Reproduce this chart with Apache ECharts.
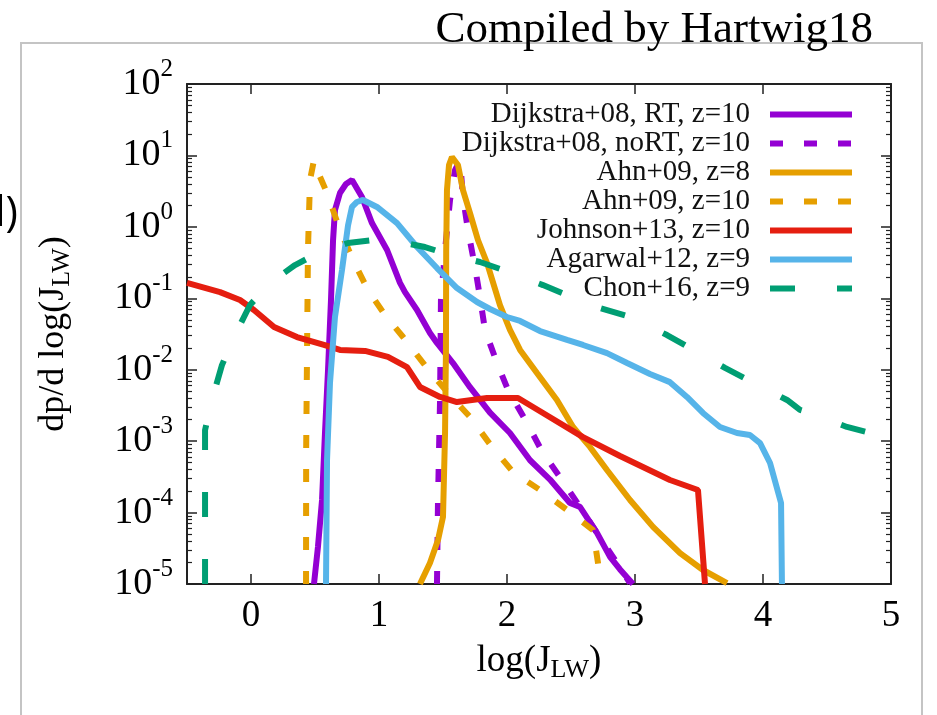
<!DOCTYPE html>
<html>
<head>
<meta charset="utf-8">
<title>dp/d log(J_LW)</title>
<script src="https://cdn.jsdelivr.net/npm/echarts@6/dist/echarts.min.js"></script>
<style>
  html, body { margin: 0; padding: 0; background: #fff; }
  #chart { width: 937px; height: 715px; }
</style>
</head>
<body>
<div id="chart"></div>
<script>
// curves: [log(J_LW), dp/d log(J_LW)]
const dijkstraRT = [
  [0.492, 1.0e-5], [0.523, 3.3e-5], [0.555, 1.5e-4], [0.578, 1.3e-3], [0.602, 0.010],
  [0.625, 0.095], [0.641, 0.65], [0.656, 1.72], [0.695, 2.98], [0.742, 3.98],
  [0.789, 4.53], [0.867, 2.62], [0.945, 1.13], [1.063, 0.474], [1.164, 0.164],
  [1.203, 0.122], [1.297, 0.0686], [1.398, 0.0327], [1.453, 0.0237], [1.578, 0.0124],
  [1.711, 5.7e-3], [1.867, 2.5e-3], [2.023, 1.3e-3], [2.18, 5.4e-4], [2.336, 2.9e-4],
  [2.492, 1.36e-4], [2.57, 1.2e-4], [2.703, 5.2e-5], [2.805, 2.4e-5], [2.883, 1.6e-5],
  [2.984, 1.0e-5]
]
const dijkstraNoRT = [
  [1.453, 1.0e-5], [1.461, 1.5e-4], [1.477, 3.8e-3], [1.484, 0.095], [1.516, 0.474],
  [1.555, 2.38], [1.594, 6.25], [1.633, 8.6], [1.656, 2.62], [1.695, 0.9],
  [1.75, 0.274], [1.789, 0.104], [1.828, 0.036], [1.922, 0.0124], [2.008, 5.2e-3],
  [2.156, 1.8e-3], [2.281, 6.8e-4], [2.43, 2.86e-4], [2.57, 1.2e-4], [2.703, 5.2e-5],
  [2.844, 2.17e-5], [2.961, 1.03e-5]
]
const ahnZ8 = [
  [1.32, 1.0e-5], [1.398, 1.97e-5], [1.461, 4.13e-5], [1.5, 8.7e-5], [1.516, 1.3e-3],
  [1.523, 0.0189], [1.525, 0.474], [1.531, 3.28], [1.547, 7.35], [1.57, 9.5],
  [1.617, 7.35], [1.656, 3.28], [1.711, 1.56], [1.773, 0.655], [1.844, 0.312],
  [1.945, 0.0805], [2.023, 0.036], [2.102, 0.0189], [2.234, 9.0e-3], [2.39, 3.77e-3],
  [2.516, 1.58e-3], [2.648, 8.3e-4], [2.781, 3.94e-4], [2.961, 1.5e-4], [3.141, 6.3e-5],
  [3.352, 2.7e-5], [3.531, 1.57e-5], [3.719, 1.03e-5]
]
const ahnZ10 = [
  [0.43, 1.0e-5], [0.431, 7.5e-4], [0.438, 0.0189], [0.445, 0.474], [0.461, 4.53],
  [0.492, 8.6], [0.523, 5.86], [0.594, 2.98], [0.695, 0.904], [0.797, 0.344],
  [0.914, 0.13], [1.047, 0.0583], [1.188, 0.0287], [1.375, 0.0106], [1.539, 4.72e-3],
  [1.711, 2.18e-3], [1.883, 8.3e-4], [2.047, 3.7e-4], [2.258, 2.07e-4], [2.469, 1.09e-4],
  [2.672, 5.7e-5], [2.711, 1.97e-5], [2.727, 1.0e-5]
]
const johnson = [
  [-0.5, 0.164], [-0.242, 0.122], [-0.086, 0.0946], [0.023, 0.0686], [0.18, 0.0396],
  [0.359, 0.0287], [0.57, 0.0222], [0.695, 0.0189], [0.891, 0.0183], [1.07, 0.0151],
  [1.219, 0.0109], [1.32, 5.73e-3], [1.477, 4.15e-3], [1.609, 3.53e-3], [1.844, 4.02e-3],
  [2.086, 4.02e-3], [2.281, 2.48e-3], [2.594, 1.14e-3], [2.883, 6.2e-4], [3.273, 2.86e-4],
  [3.492, 2.07e-4], [3.547, 1.0e-5]
]
const agarwal = [
  [0.586, 1.0e-5], [0.594, 5.4e-4], [0.617, 6.5e-3], [0.656, 0.0547], [0.711, 0.25],
  [0.758, 1.05], [0.789, 1.9], [0.828, 2.23], [0.875, 2.38], [0.984, 1.9],
  [1.141, 1.13], [1.297, 0.522], [1.453, 0.265], [1.609, 0.139], [1.766, 0.0887],
  [1.867, 0.0708], [2.0, 0.0547], [2.102, 0.0481], [2.258, 0.0348], [2.469, 0.0261],
  [2.594, 0.0222], [2.781, 0.0171], [2.938, 0.0124], [3.117, 8.7e-3], [3.273, 6.7e-3],
  [3.406, 4.15e-3], [3.531, 2.48e-3], [3.664, 1.58e-3], [3.797, 1.3e-3], [3.898, 1.22e-3],
  [3.977, 9.4e-4], [4.055, 4.94e-4], [4.141, 1.36e-4], [4.148, 1.0e-5]
]
const chon = [
  [-0.359, 1.0e-5], [-0.359, 1.43e-3], [-0.305, 3.77e-3], [-0.227, 0.0116], [-0.125, 0.0306],
  [-0.008, 0.0805], [0.148, 0.164], [0.344, 0.292], [0.539, 0.445], [0.758, 0.594],
  [0.953, 0.655], [1.164, 0.614], [1.359, 0.522], [1.555, 0.404], [1.789, 0.322],
  [1.969, 0.249], [2.281, 0.153], [2.469, 0.111], [2.727, 0.0731], [2.961, 0.0547],
  [3.25, 0.0306], [3.43, 0.0201], [3.703, 0.0106], [3.883, 7.2e-3], [4.188, 3.77e-3],
  [4.289, 2.73e-3], [4.367, 2.48e-3], [4.656, 1.58e-3], [4.836, 1.3e-3], [5.0, 1.0e-3]
]

const legendNames = [
  'Dijkstra+08, RT, z=10',
  'Dijkstra+08, noRT, z=10',
  'Ahn+09, z=8',
  'Ahn+09, z=10',
  'Johnson+13, z=10',
  'Agarwal+12, z=9',
  'Chon+16, z=9',
]
const xTicks = [0, 1, 2, 3, 4, 5]

const FONT = 'Liberation Serif'
const chart = echarts.init(document.getElementById('chart'))

function curve(name, data, color, dash) {
  return {
    name: name,
    type: 'line',
    data: data,
    symbol: 'none',
    clip: true,
    lineStyle: { color: color, width: 6, type: dash || 'solid' },
    itemStyle: { color: color },
    emphasis: { disabled: true },
  }
}

const axisLineStyle = { color: '#222', width: 2 }
const yLogAxis = (pos, labels) => ({
  type: 'log',
  logBase: 10,
  position: pos,
  min: 1e-5,
  max: 100,
  axisLine: { show: true, onZero: false, lineStyle: axisLineStyle },
  axisTick: { show: true, inside: true, length: 10, lineStyle: { color: '#222', width: 1.5 } },
  minorTick: { show: true, splitNumber: 9, length: 5, lineStyle: { color: '#222', width: 1.2 } },
  splitLine: { show: false },
  minorSplitLine: { show: false },
  axisLabel: {
    show: labels,
    margin: 14,
    formatter: (v) => '{b|10}{s|' + Math.round(Math.log10(v)) + '}',
    rich: {
      b: { fontFamily: FONT, fontSize: 38, color: '#000', padding: [8, 0, 8, 0] },
      s: { fontFamily: FONT, fontSize: 25, color: '#000', verticalAlign: 'top' },
    },
  },
})
const xAxisCfg = (pos, labels) => ({
  type: 'value',
  position: pos,
  min: -0.5,
  max: 5,
  axisLine: { show: true, onZero: false, lineStyle: axisLineStyle },
  axisTick: { show: true, inside: true, length: 10, customValues: xTicks, lineStyle: { color: '#222', width: 1.5 } },
  splitLine: { show: false },
  axisLabel: {
    show: labels,
    customValues: xTicks,
    margin: 14,
    fontFamily: FONT,
    fontSize: 37,
    color: '#000',
  },
})
const subRich = {
  sub: { fontFamily: FONT, fontSize: 26, color: '#000', padding: [17, 0, 0, 0] },
}

const xBottom = xAxisCfg('bottom', true)
xBottom.name = 'log(J{sub|LW})'
xBottom.nameLocation = 'middle'
xBottom.nameGap = 56
xBottom.nameTextStyle = { fontFamily: FONT, fontSize: 37, color: '#000', rich: subRich }

const yLeft = yLogAxis('left', true)
yLeft.name = 'dp/d log(J{sub|LW})'
yLeft.nameLocation = 'middle'
yLeft.nameRotate = 90
yLeft.nameGap = 112
yLeft.nameTextStyle = { fontFamily: FONT, fontSize: 36, color: '#000', rich: subRich }

const option = {
  animation: false,
  backgroundColor: '#fff',
  grid: { left: 187, top: 84, right: 46, bottom: 131, containLabel: false },
  xAxis: [xBottom, xAxisCfg('top', false)],
  yAxis: [yLeft, yLogAxis('right', false)],
  legend: {
    data: legendNames,
    orient: 'vertical',
    align: 'right',
    right: 77,
    top: 95,
    itemWidth: 82,
    itemHeight: 14,
    itemGap: 0,
    selectedMode: false,
    itemStyle: { opacity: 0 },
    lineStyle: { width: 6 },
    textStyle: {
      fontFamily: FONT,
      fontSize: 29,
      color: '#111',
      lineHeight: 27,
      width: 300,
      align: 'right',
      padding: [0, 15, 0, 0],
    },
  },
  graphic: [
    {
      type: 'rect',
      silent: true,
      z: -10,
      shape: { x: 21, y: 43, width: 901, height: 700 },
      style: { fill: 'none', stroke: '#c4c4c4', lineWidth: 2 },
    },
    {
      type: 'text',
      silent: true,
      style: { text: 'Compiled by Hartwig18', x: 873, y: 30, align: 'right', verticalAlign: 'middle', font: '45px "Liberation Serif"', fill: '#000' },
    },
    {
      type: 'text',
      silent: true,
      style: { text: 'l)', x: -5, y: 214, align: 'left', verticalAlign: 'middle', font: '42px "Open Sans"', fill: '#000' },
    },
  ],
  series: [
    curve(legendNames[0], dijkstraRT, '#9400D3'),
    curve(legendNames[1], dijkstraNoRT, '#9400D3', [13, 21]),
    curve(legendNames[2], ahnZ8, '#E69F00'),
    curve(legendNames[3], ahnZ10, '#E69F00', [13, 21]),
    curve(legendNames[4], johnson, '#E51E10'),
    curve(legendNames[5], agarwal, '#56B4E9'),
    curve(legendNames[6], chon, '#009E73', [25, 42]),
  ],
}

chart.setOption(option)
</script>
</body>
</html>
